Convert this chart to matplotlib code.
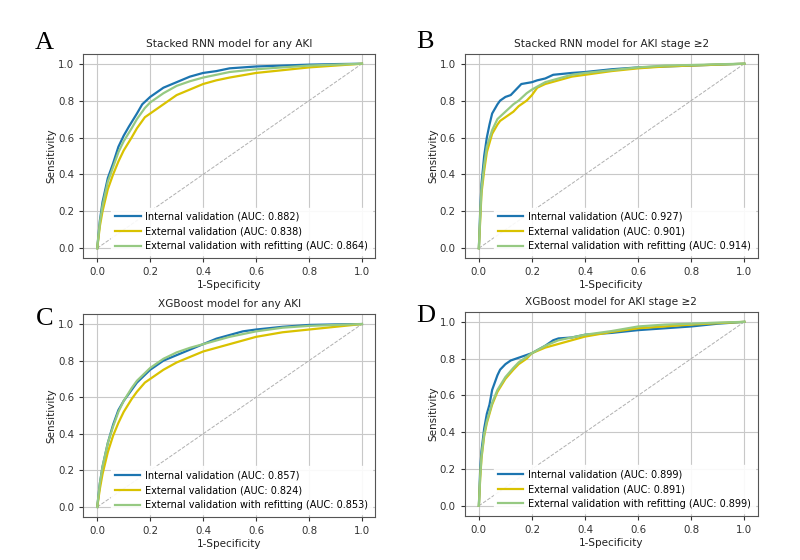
import matplotlib.pyplot as plt

titles = ['Stacked RNN model for any AKI', 'Stacked RNN model for AKI stage \u22652',
          'XGBoost model for any AKI', 'XGBoost model for AKI stage \u22652']
letters = ['A', 'B', 'C', 'D']
series_names = ['Internal validation', 'External validation', 'External validation with refitting']
aucs = [[0.882, 0.838, 0.864], [0.927, 0.901, 0.914], [0.857, 0.824, 0.853], [0.899, 0.891, 0.899]]

# panel A
a_int_x = [0, 0.01, 0.02, 0.04, 0.06, 0.08, 0.10, 0.12, 0.15, 0.17, 0.20, 0.25, 0.30, 0.35, 0.40, 0.45, 0.50, 0.60, 0.70, 0.80, 0.90, 1]
a_int_y = [0, 0.15, 0.25, 0.38, 0.46, 0.55, 0.61, 0.66, 0.73, 0.78, 0.82, 0.87, 0.90, 0.93, 0.95, 0.96, 0.975, 0.985, 0.99, 0.995, 0.998, 1]
a_ext_x = [0, 0.01, 0.02, 0.04, 0.06, 0.08, 0.10, 0.13, 0.15, 0.18, 0.20, 0.25, 0.30, 0.35, 0.40, 0.45, 0.50, 0.60, 0.70, 0.80, 0.90, 1]
a_ext_y = [0, 0.12, 0.20, 0.32, 0.40, 0.47, 0.53, 0.60, 0.65, 0.71, 0.73, 0.78, 0.83, 0.86, 0.89, 0.91, 0.925, 0.95, 0.965, 0.98, 0.99, 1]
a_ref_x = [0, 0.01, 0.02, 0.04, 0.06, 0.08, 0.10, 0.13, 0.15, 0.18, 0.20, 0.25, 0.30, 0.35, 0.40, 0.45, 0.50, 0.60, 0.70, 0.80, 0.90, 1]
a_ref_y = [0, 0.14, 0.23, 0.36, 0.44, 0.52, 0.58, 0.65, 0.70, 0.76, 0.79, 0.84, 0.88, 0.905, 0.925, 0.94, 0.955, 0.97, 0.98, 0.99, 0.995, 1]

# panel B
b_int_x = [0, 0.005, 0.01, 0.02, 0.03, 0.04, 0.05, 0.07, 0.08, 0.10, 0.12, 0.14, 0.16, 0.20, 0.22, 0.25, 0.28, 0.35, 0.40, 0.50, 0.60, 0.70, 0.80, 0.90, 1]
b_int_y = [0, 0.20, 0.35, 0.50, 0.60, 0.67, 0.73, 0.78, 0.80, 0.82, 0.83, 0.86, 0.89, 0.90, 0.91, 0.92, 0.94, 0.95, 0.955, 0.97, 0.98, 0.985, 0.99, 0.995, 1]
b_ext_x = [0, 0.005, 0.01, 0.02, 0.03, 0.05, 0.07, 0.08, 0.10, 0.13, 0.15, 0.18, 0.20, 0.22, 0.25, 0.30, 0.35, 0.40, 0.50, 0.60, 0.70, 0.80, 0.90, 1]
b_ext_y = [0, 0.15, 0.30, 0.42, 0.52, 0.62, 0.67, 0.69, 0.71, 0.74, 0.77, 0.80, 0.83, 0.87, 0.89, 0.91, 0.93, 0.94, 0.96, 0.975, 0.985, 0.99, 0.995, 1]
b_ref_x = [0, 0.005, 0.01, 0.02, 0.03, 0.05, 0.07, 0.10, 0.13, 0.15, 0.18, 0.20, 0.25, 0.30, 0.35, 0.40, 0.50, 0.60, 0.70, 0.80, 0.90, 1]
b_ref_y = [0, 0.17, 0.32, 0.45, 0.55, 0.64, 0.70, 0.74, 0.78, 0.80, 0.84, 0.86, 0.90, 0.92, 0.94, 0.95, 0.965, 0.98, 0.99, 0.993, 0.997, 1]

# panel C
c_int_x = [0, 0.01, 0.02, 0.04, 0.06, 0.08, 0.10, 0.13, 0.15, 0.20, 0.25, 0.30, 0.35, 0.40, 0.45, 0.50, 0.55, 0.60, 0.70, 0.80, 0.90, 1]
c_int_y = [0, 0.13, 0.22, 0.35, 0.45, 0.53, 0.58, 0.64, 0.68, 0.75, 0.80, 0.83, 0.86, 0.89, 0.92, 0.94, 0.96, 0.97, 0.985, 0.995, 0.998, 1]
c_ext_x = [0, 0.01, 0.02, 0.04, 0.06, 0.08, 0.10, 0.13, 0.15, 0.18, 0.20, 0.25, 0.30, 0.35, 0.40, 0.45, 0.50, 0.60, 0.70, 0.80, 0.90, 1]
c_ext_y = [0, 0.10, 0.18, 0.30, 0.39, 0.46, 0.52, 0.59, 0.63, 0.68, 0.70, 0.75, 0.79, 0.82, 0.85, 0.87, 0.89, 0.93, 0.955, 0.97, 0.985, 1]
c_ref_x = [0, 0.01, 0.02, 0.04, 0.06, 0.08, 0.10, 0.13, 0.15, 0.20, 0.25, 0.30, 0.35, 0.40, 0.45, 0.50, 0.60, 0.70, 0.80, 0.90, 1]
c_ref_y = [0, 0.13, 0.22, 0.35, 0.44, 0.52, 0.58, 0.65, 0.69, 0.76, 0.81, 0.845, 0.87, 0.89, 0.91, 0.93, 0.96, 0.98, 0.99, 0.995, 1]

# panel D
d_int_x = [0, 0.005, 0.01, 0.02, 0.03, 0.04, 0.05, 0.06, 0.07, 0.08, 0.10, 0.12, 0.15, 0.18, 0.20, 0.25, 0.28, 0.30, 0.35, 0.40, 0.50, 0.60, 0.70, 0.80, 0.90, 1]
d_int_y = [0, 0.20, 0.30, 0.42, 0.50, 0.55, 0.63, 0.67, 0.71, 0.74, 0.77, 0.79, 0.805, 0.82, 0.83, 0.87, 0.90, 0.91, 0.915, 0.93, 0.94, 0.955, 0.965, 0.975, 0.99, 1]
d_ext_x = [0, 0.005, 0.01, 0.02, 0.03, 0.05, 0.07, 0.10, 0.13, 0.15, 0.18, 0.20, 0.25, 0.30, 0.35, 0.40, 0.50, 0.60, 0.70, 0.80, 0.90, 1]
d_ext_y = [0, 0.15, 0.26, 0.38, 0.45, 0.55, 0.62, 0.69, 0.74, 0.77, 0.80, 0.83, 0.86, 0.88, 0.90, 0.92, 0.945, 0.965, 0.975, 0.985, 0.993, 1]
d_ref_x = [0, 0.005, 0.01, 0.02, 0.03, 0.05, 0.07, 0.10, 0.13, 0.15, 0.18, 0.20, 0.25, 0.30, 0.35, 0.40, 0.50, 0.60, 0.70, 0.80, 0.90, 1]
d_ref_y = [0, 0.16, 0.27, 0.39, 0.46, 0.56, 0.63, 0.70, 0.75, 0.78, 0.81, 0.83, 0.87, 0.90, 0.915, 0.93, 0.95, 0.975, 0.985, 0.99, 0.996, 1]

curves = [
    [(a_int_x, a_int_y), (a_ext_x, a_ext_y), (a_ref_x, a_ref_y)],
    [(b_int_x, b_int_y), (b_ext_x, b_ext_y), (b_ref_x, b_ref_y)],
    [(c_int_x, c_int_y), (c_ext_x, c_ext_y), (c_ref_x, c_ref_y)],
    [(d_int_x, d_int_y), (d_ext_x, d_ext_y), (d_ref_x, d_ref_y)],
]
colors = ['#1c75b0', '#d9c200', '#96c982']

fig = plt.figure(figsize=(8, 5.6), dpi=100)
boxes = [[0.104, 0.539, 0.365, 0.365], [0.581, 0.539, 0.366, 0.365],
         [0.104, 0.077, 0.365, 0.362], [0.581, 0.079, 0.366, 0.364]]
letter_pos = [(0.043, 0.913), (0.52, 0.914), (0.045, 0.42), (0.52, 0.425)]

for i in range(4):
    ax = fig.add_axes(boxes[i])
    ax.plot([0, 1], [0, 1], ls='--', color='#b0b0b0', lw=0.7)
    for j in range(3):
        x, y = curves[i][j]
        ax.plot(x, y, color=colors[j], lw=1.6,
                label='%s (AUC: %.3f)' % (series_names[j], aucs[i][j]))
    ax.set_xlim(-0.053, 1.05)
    ax.set_ylim(-0.054, 1.054)
    ax.set_xticks([0, 0.2, 0.4, 0.6, 0.8, 1.0])
    ax.set_yticks([0, 0.2, 0.4, 0.6, 0.8, 1.0])
    ax.grid(True, color='#c8c8c8', lw=0.8)
    ax.tick_params(labelsize=7.4, colors='#333333', length=3)
    for s in ax.spines.values():
        s.set_color('#555555')
        s.set_linewidth(0.8)
    ax.set_title(titles[i], fontsize=7.6, color='#222222', pad=5)
    ax.set_xlabel('1-Specificity', fontsize=7.5, color='#222222', labelpad=2)
    ax.set_ylabel('Sensitivity', fontsize=7.5, color='#222222', labelpad=1)
    ax.legend(loc='lower right', fontsize=7.05, frameon=True, framealpha=0.9,
              edgecolor='white', handlelength=2.6, handletextpad=0.5,
              labelspacing=0.5, borderaxespad=0.3)
    fig.text(letter_pos[i][0], letter_pos[i][1], letters[i], fontsize=19,
             family='Liberation Serif', color='black')

plt.savefig('out.png')
plt.close()
